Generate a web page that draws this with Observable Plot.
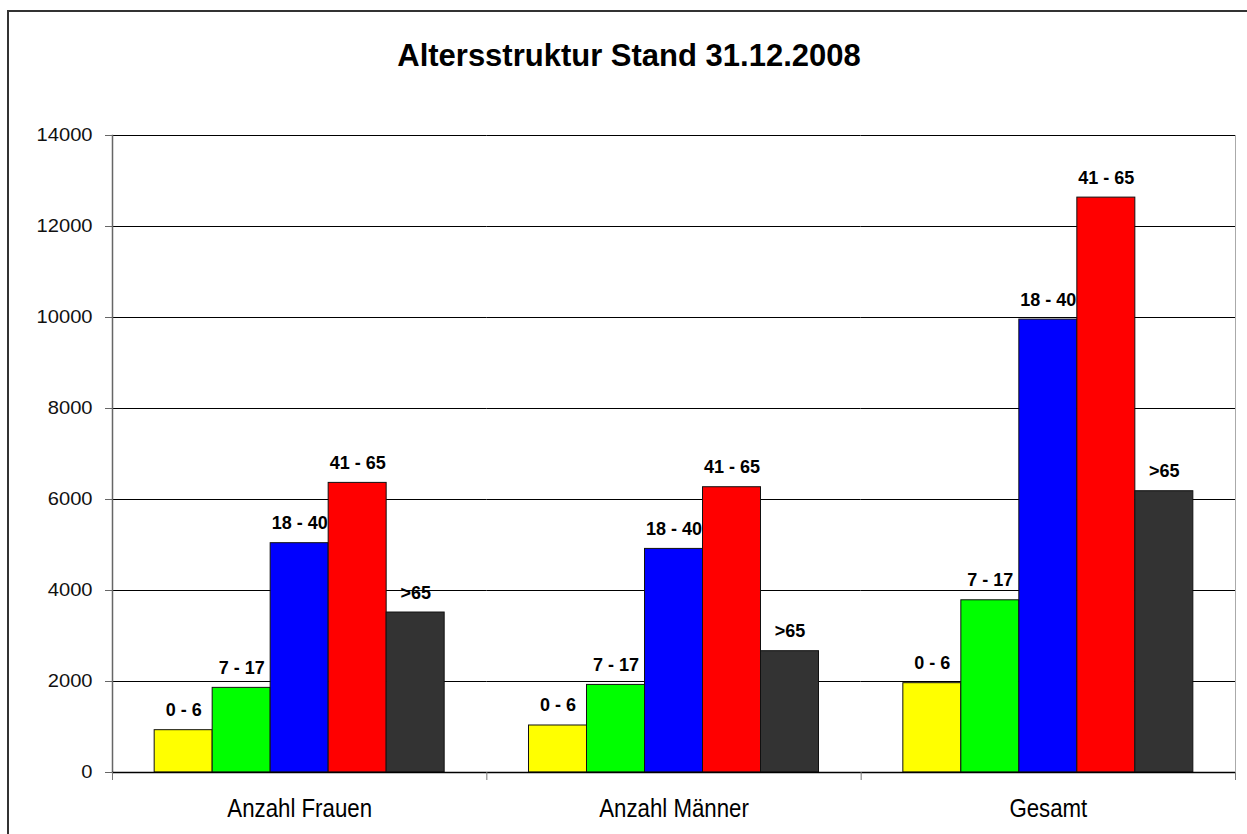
<!DOCTYPE html>
<html>
<head>
<meta charset="utf-8">
<script src="https://cdn.jsdelivr.net/npm/d3@7"></script>
<script src="https://cdn.jsdelivr.net/npm/@observablehq/plot@0.6"></script>
<style>
  html, body { margin: 0; padding: 0; background: #fff; overflow: hidden; }
  body { width: 1247px; height: 834px; position: relative; font-family: "Liberation Sans", Arial, sans-serif; }
  #frame { position: absolute; left: 7px; top: 10px; width: 1240px; height: 824px; border-left: 2px solid #333; border-top: 2px solid #333; box-sizing: border-box; }
  #title { position: absolute; left: 0; top: 40px; width: 1258px; text-align: center; font-weight: bold; font-size: 31px; line-height: 31px; color: #000; }
  #chart { position: absolute; left: 0; top: 90px; }
</style>
</head>
<body>
<div id="frame"></div>
<div id="title">Altersstruktur Stand 31.12.2008</div>
<div id="chart"></div>
<script>
// ---- data ----
const groups = ["Anzahl Frauen", "Anzahl Männer", "Gesamt"];
const ages = ["0 - 6", "7 - 17", "18 - 40", "41 - 65", ">65"];
const frauen = [930, 1860, 5040, 6365, 3516];
const maenner = [1033, 1925, 4914, 6270, 2666];
const gesamt = [1963, 3785, 9954, 12635, 6182];
const ageColors = ["#ffff00", "#00ff00", "#0000ff", "#ff0000", "#333333"];
const yTicks = [0, 2000, 4000, 6000, 8000, 10000, 12000, 14000];

const series = [frauen, maenner, gesamt];
const data = groups.flatMap((g, gi) => ages.map((a, ai) => ({group: g, age: a, value: series[gi][ai]})));

// ---- layout ----
const W = 1247, H = 744;
const mL = 112, mR = 12, mT = 45, mB = 62;
const step = (W - mL - mR) / groups.length;

const chart = Plot.plot({
  width: W,
  height: H,
  marginLeft: mL,
  marginRight: mR,
  marginTop: mT,
  marginBottom: mB,
  style: {fontFamily: "'Liberation Sans', Arial, sans-serif", background: "transparent", color: "#000"},
  fx: {domain: groups, padding: 0, round: false, label: null},
  x: {domain: ages, paddingInner: 0, paddingOuter: 0.727, round: false, axis: null},
  y: {domain: [0, 14000], label: null},
  color: {domain: ages, range: ageColors},
  marks: [
    Plot.gridY(yTicks, {stroke: "#000", strokeOpacity: 1, strokeWidth: 1}),
    Plot.frame({anchor: "right", facetAnchor: "right", stroke: "#aaa", strokeWidth: 1}),
    Plot.barY(data, {fx: "group", x: "age", y: "value", fill: "age", stroke: "#111", strokeWidth: 1}),
    Plot.text(data, {fx: "group", x: "age", y: "value", text: "age", lineAnchor: "bottom", dy: -14,
      fontSize: 18, fontWeight: "bold", fill: "#000"}),
    Plot.frame({anchor: "left", facetAnchor: "left", stroke: "#666", strokeWidth: 1.5}),
    Plot.ruleY([0], {stroke: "#000", strokeWidth: 1.5}),
    Plot.axisY(yTicks, {tickSize: 7, tickPadding: 13, fontSize: 17.5, stroke: "#666", fill: "#111",
      label: null, tickFormat: d => String(d)}),
    Plot.axisFx({anchor: "bottom", tickSize: 0, tickPadding: 27, fontSize: 25, fill: "#000", label: null}),
    Plot.axisFx({anchor: "bottom", fill: "none", stroke: "#777", tickSize: 8, dx: -step / 2, label: null}),
    Plot.axisFx({anchor: "bottom", ticks: [groups[groups.length - 1]], fill: "none", stroke: "#777", tickSize: 8, dx: step / 2, label: null})
  ]
});

document.getElementById("chart").appendChild(chart);

// mimic the horizontally stretched / condensed fonts of the original picture
function stretch(selector, sx) {
  chart.querySelectorAll(selector).forEach(t => {
    let tr = t.getAttribute("transform");
    if (!tr) {
      const x = t.getAttribute("x") || 0, y = t.getAttribute("y") || 0;
      t.removeAttribute("x"); t.removeAttribute("y");
      tr = `translate(${x},${y})`;
    }
    t.setAttribute("transform", tr + ` scale(${sx},1)`);
  });
}
stretch('g[aria-label="y-axis tick label"] text', 1.15);
stretch('g[aria-label="fx-axis tick label"] text', 0.89);
</script>
</body>
</html>
